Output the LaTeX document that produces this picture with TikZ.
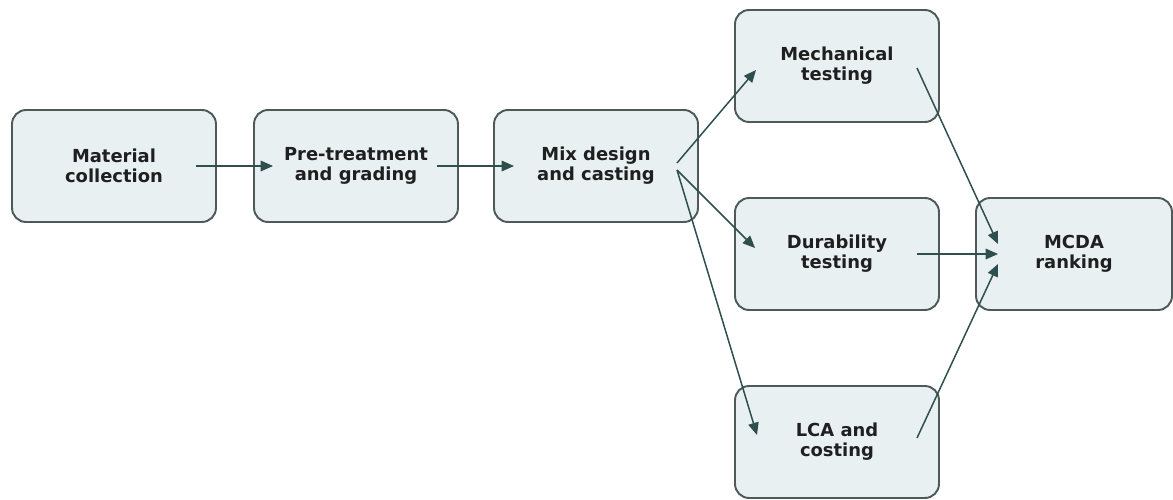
\documentclass[tikz,border=0pt]{standalone}
\usepackage{fontspec}
\setmainfont{DejaVu Sans}
\usepackage{tikz}
\usetikzlibrary{arrows.meta, calc}

\definecolor{boxfill}{HTML}{E8F0F2}
\definecolor{boxline}{HTML}{4E5A5A}
\definecolor{pfeil}{HTML}{2F4F4F}

\begin{document}
\begin{tikzpicture}[x=0.02cm, y=-0.02cm,
		stufe/.style={draw=boxline, fill=boxfill, line width=1.1pt, rounded corners=8pt,
			minimum width=4.08cm, minimum height=2.24cm, align=center,
			font=\bfseries\fontsize{10.2}{11.5}\selectfont, text=black!88},
		fluss/.style={draw=pfeil, line width=0.85pt, -{Triangle[length=7pt,width=6pt]}}]
	\useasboundingbox (0,0) rectangle (1173,500);
	
	% Stufen
	\node[stufe] (mat)  at (114,166)  {Material\\collection};
	\node[stufe] (pre)  at (356,166)  {Pre-treatment\\and grading};
	\node[stufe] (mix)  at (596,166)  {Mix design\\and casting};
	\node[stufe] (mech) at (837,66)   {Mechanical\\testing};
	\node[stufe] (dur)  at (837,254)  {Durability\\testing};
	\node[stufe] (lca)  at (837,442)  {LCA and\\costing};
	\node[stufe, minimum width=3.92cm] (mcda) at (1074,254) {MCDA\\ranking};
	
	% Pfeile
	\draw[fluss] ($(mat)+(82,0)$) -- ($(pre)+(-83,0)$);
	\draw[fluss] ($(pre)+(81,0)$) -- ($(mix)+(-82,0)$);
	\draw[fluss] ($(mix)+(81,-3)$) -- ($(mech)+(-81,4)$);
	\draw[fluss] ($(mix)+(81,4)$) -- ($(dur)+(-82,-6)$);
	\draw[fluss] ($(mix)+(81,4)$) -- ($(lca)+(-80,-7)$);
	\foreach \quelle/\sy/\dy in {mech/2/-10, dur/0/0, lca/-4/10} {
		\draw[fluss] ($(\quelle)+(80,\sy)$) -- ($(mcda)+(-76,\dy)$);
	}
\end{tikzpicture}
\end{document}
